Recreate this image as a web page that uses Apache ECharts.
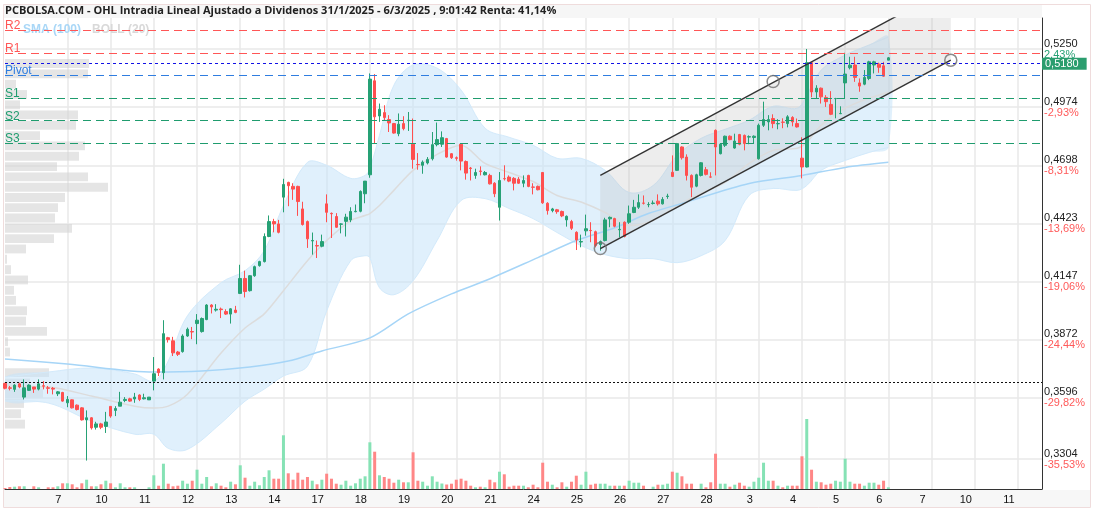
<!DOCTYPE html>
<html>
<head>
<meta charset="utf-8">
<script src="https://cdn.jsdelivr.net/npm/echarts@6.0.0/dist/echarts.min.js"></script>
<style>
  html, body { margin: 0; padding: 0; background: #fff; }
  #chart { width: 1096px; height: 512px; }
</style>
</head>
<body>
<div id="chart"></div>
<script>
// dias del eje x (la etiqueta se pone en la primera vela de cada sesion)
const dayLabels = ['7', '10', '11', '12', '13', '14', '17', '18', '19', '20', '21', '24', '25', '26', '27', '28', '3', '4', '5', '6', '7', '10', '11']
const firstDayIndex = 13
const barsPerDay = 9
const slotCount = 217

// velas horarias [apertura, cierre, minimo, maximo]
const candles = [
  [.3663, .3640, .3635, .3666], [.3642, .3640, .3630, .3651], [.3635, .3655, .3623, .3659], [.3661, .3646, .3640, .3666],
  [.3598, .3642, .3587, .3682], [.3630, .3655, .3627, .3659], [.3646, .3636, .3618, .3646], [.3636, .3661, .3630, .3682],
  [.3652, .3650, .3635, .3674], [.3642, .3640, .3614, .3651], [.3640, .3636, .3611, .3646], [.3614, .3623, .3603, .3627],
  [.3620, .3579, .3576, .3623], [.3571, .3587, .3550, .3603], [.3585, .3547, .3544, .3587], [.3560, .3539, .3535, .3563],
  [.3547, .3490, .3487, .3550], [.3490, .3500, .3297, .3535], [.3500, .3452, .3444, .3503], [.3455, .3471, .3444, .3481],
  [.3471, .3455, .3446, .3476], [.3459, .3480, .3428, .3528], [.3554, .3508, .3500, .3555], [.3535, .3544, .3508, .3555],
  [.3555, .3574, .3555, .3623], [.3582, .3587, .3574, .3598], [.3590, .3579, .3576, .3595], [.3589, .3598, .3571, .3618],
  [.3608, .3587, .3579, .3611], [.3590, .3595, .3587, .3614], [.3585, .3598, .3585, .3598], [.3674, .3709, .3630, .3788],
  [.3731, .3714, .3698, .3735], [.3714, .3899, .3682, .3963], [.3880, .3871, .3857, .3884], [.3865, .3808, .3793, .3884],
  [.3812, .3801, .3793, .3817], [.3814, .3888, .3809, .3896], [.3888, .3920, .3884, .3928], [.3909, .3907, .3873, .3931],
  [.3947, .3963, .3849, .3992], [.3909, .3971, .3904, .3976], [.3966, .4035, .3963, .4039], [.4035, .4026, .3995, .4039],
  [.4011, .4015, .4004, .4039], [.4016, .4013, .3973, .4023], [.4004, .3992, .3988, .4015], [.3992, .4017, .3947, .4020],
  [.4011, .4000, .3996, .4031], [.4090, .4161, .4087, .4226], [.4161, .4099, .4071, .4198], [.4103, .4174, .4099, .4177],
  [.4174, .4217, .4169, .4222], [.4222, .4241, .4217, .4245], [.4241, .4360, .4237, .4375], [.4360, .4431, .4357, .4460],
  [.4431, .4420, .4380, .4444], [.4420, .4380, .4375, .4439], [.4547, .4607, .4475, .4634], [.4617, .4601, .4504, .4620],
  [.4598, .4585, .4534, .4613], [.4598, .4526, .4458, .4601], [.4491, .4417, .4412, .4525], [.4431, .4349, .4306, .4436],
  [.4339, .4341, .4274, .4379], [.4317, .4315, .4258, .4341], [.4314, .4336, .4309, .4369], [.4515, .4475, .4428, .4560],
  [.4470, .4468, .4353, .4474], [.4455, .4404, .4401, .4471], [.4418, .4420, .4375, .4423], [.4432, .4452, .4360, .4468],
  [.4439, .4479, .4428, .4499], [.4478, .4480, .4475, .4512], [.4480, .4574, .4475, .4579], [.4563, .4623, .4518, .4623],
  [.4653, .5107, .4639, .5134], [.5099, .4928, .4801, .5131], [.4932, .4964, .4904, .4991], [.4948, .4925, .4912, .4983],
  [.4915, .4899, .4856, .4936], [.4896, .4851, .4848, .4899], [.4848, .4893, .4836, .4944], [.4896, .4872, .4864, .4931],
  [.4910, .4912, .4861, .4951], [.4798, .4726, .4682, .4920], [.4702, .4701, .4677, .4756], [.4698, .4713, .4658, .4721],
  [.4709, .4726, .4702, .4737], [.4729, .4796, .4721, .4856], [.4796, .4820, .4788, .4901], [.4798, .4829, .4785, .4859],
  [.4825, .4737, .4734, .4828], [.4753, .4734, .4728, .4756], [.4734, .4731, .4720, .4740], [.4798, .4718, .4674, .4801],
  [.4716, .4661, .4630, .4721], [.4685, .4683, .4626, .4690], [.4650, .4664, .4634, .4682], [.4671, .4669, .4650, .4693],
  [.4653, .4664, .4650, .4671], [.4650, .4610, .4607, .4658], [.4613, .4563, .4547, .4618], [.4499, .4626, .4436, .4666],
  [.4635, .4634, .4626, .4698], [.4642, .4623, .4618, .4650], [.4636, .4613, .4579, .4642], [.4632, .4613, .4610, .4642],
  [.4613, .4626, .4594, .4650], [.4650, .4598, .4594, .4653], [.4595, .4594, .4560, .4613], [.4598, .4582, .4579, .4602],
  [.4664, .4520, .4515, .4666], [.4518, .4483, .4464, .4523], [.4483, .4491, .4475, .4496], [.4487, .4478, .4468, .4491],
  [.4479, .4458, .4452, .4483], [.4439, .4456, .4407, .4460], [.4431, .4399, .4391, .4439], [.4380, .4344, .4296, .4385],
  [.4334, .4336, .4309, .4369], [.4387, .4397, .4364, .4464], [.4389, .4388, .4333, .4428], [.4383, .4317, .4309, .4388],
  [.4322, .4336, .4293, .4341], [.4341, .4439, .4337, .4449], [.4444, .4451, .4404, .4455], [.4445, .4409, .4404, .4449],
  [.4392, .4394, .4356, .4428], [.4428, .4360, .4356, .4432], [.4428, .4468, .4420, .4507], [.4474, .4499, .4471, .4534],
  [.4499, .4521, .4491, .4560], [.4519, .4518, .4512, .4555], [.4511, .4512, .4499, .4523], [.4517, .4519, .4512, .4531],
  [.4528, .4515, .4507, .4560], [.4515, .4536, .4512, .4547], [.4550, .4552, .4539, .4563], [.4665, .4645, .4642, .4745],
  [.4674, .4801, .4671, .4804], [.4785, .4734, .4725, .4788], [.4737, .4650, .4626, .4750], [.4650, .4594, .4547, .4655],
  [.4599, .4653, .4594, .4658], [.4650, .4710, .4645, .4713], [.4677, .4655, .4650, .4690], [.4643, .4642, .4639, .4665],
  [.4864, .4785, .4650, .4868], [.4753, .4798, .4750, .4801], [.4793, .4836, .4785, .4839], [.4836, .4820, .4817, .4840],
  [.4780, .4813, .4777, .4848], [.4844, .4798, .4793, .4847], [.4840, .4801, .4769, .4844], [.4832, .4834, .4798, .4840],
  [.4830, .4836, .4801, .4840], [.4729, .4888, .4725, .4896], [.4888, .4915, .4880, .5000], [.4904, .4915, .4864, .4936],
  [.4920, .4896, .4874, .4940], [.4895, .4896, .4869, .4917], [.4903, .4902, .4874, .4921], [.4896, .4928, .4878, .4936],
  [.4925, .4904, .4883, .4931], [.4896, .4880, .4877, .4920], [.4732, .4690, .4636, .4831], [.4690, .5185, .4688, .5250],
  [.5185, .5046, .5021, .5189], [.5046, .5064, .5016, .5078], [.5064, .5023, .4991, .5067], [.5020, .5000, .4975, .5031],
  [.4987, .4940, .4936, .5050], [.5014, .5015, .4921, .5018], [.4943, .4944, .4941, .4978], [.5089, .5131, .5017, .5232],
  [.5161, .5173, .5153, .5213], [.5174, .5115, .5094, .5213], [.5089, .5074, .5047, .5110], [.5083, .5115, .5078, .5150],
  [.5110, .5189, .5102, .5194], [.5174, .5189, .5134, .5194], [.5178, .5163, .5137, .5185], [.5170, .5121, .5118, .5189],
  [.5197, .5208, .5197, .5212]
]

// volumen por vela (miles de titulos, aprox.)
const volumes = [
  1, 2, 2.3, 2.7, 2.7, 0, 2.7, 1.7, 0, 1.7,
  1.7, 2.7, 5.7, 5.7, 4.7, 1.7, 5.7, 9.3, 2.7, 2.7,
  4.7, 8.3, 5.7, 1.7, 5.7, 1.7, 1.7, 1.7, 0, 0,
  1.7, 13.7, 3.3, 25.3, 5.3, 2.7, 3.3, 8.3, 5.3, 8.3,
  19.3, 5.3, 12, 2.7, 5.7, 3.3, 1.7, 7.3, 4.7, 23.7,
  11.3, 3.3, 7.3, 3.7, 12, 18.7, 10.3, 10.3, 53.7, 15.7,
  9.3, 16.3, 9.3, 12, 8.3, 4.7, 9.3, 15.3, 10.3, 5.3,
  4.3, 8.3, 3.3, 5.7, 10.3, 12.7, 46.7, 37.3, 13.7, 12,
  10.3, 6.3, 9.3, 6.7, 6.7, 36.7, 8.3, 7.3, 3.3, 12.7,
  7.3, 5.5, 4.5, 5.3, 9.3, 10.3, 8.3, 3.3, 1.7, 2.3,
  1.7, 9.3, 6.7, 17.3, 14.7, 2.3, 3.3, 3.3, 3.3, 1.7,
  4.3, 1.7, 26.3, 7.3, 4.3, 1.7, 6.7, 2.3, 7.3, 13.3,
  4.3, 17.3, 4.3, 5.3, 5.3, 5.3, 3.3, 3.3, 3.3, 3.3,
  8.3, 6.3, 6.3, 3.3, 0, 2.3, 4.3, 4.3, 5.3, 17.3,
  16.3, 12.7, 5.3, 5.3, 0, 5.3, 1.7, 6.7, 35.3, 5.3,
  5.3, 2.3, 4.3, 6.3, 3.3, 2.3, 7.3, 11.3, 26.3, 8.3,
  8.3, 3.3, 1.7, 3.3, 3.3, 3.3, 32.7, 70, 19.3, 7.3,
  6.7, 4.3, 5.3, 8.3, 7.3, 30.3, 7.3, 5.3, 5.3, 3.3,
  6.3, 6.3, 4.3, 8.3, 1.7
]

// eje de precios
const priceTicks = [0.3304, 0.3596, 0.3872, 0.4147, 0.4423, 0.4698, 0.4974, 0.5250]
const pctLabels = ['-35,53%', '-29,82%', '-24,44%', '-19,06%', '-13,69%', '-8,31%', '-2,93%', '2,43%']
const priceMin = 0.3162
const priceMax = 0.5397

// pivotes
const pivotNames = ['R2', 'R1', 'Pivot', 'S1', 'S2', 'S3']
const pivotValues = [0.5340, 0.5231, 0.5126, 0.5017, 0.4912, 0.4803]
const lastPrice = 0.5180
const basePrice = 0.3670

// bandas de bollinger (20)
const bollIndex = [0, 9, 18, 27, 31, 34, 38, 45, 50, 54, 58, 63, 67, 72, 75, 76, 78, 81, 85, 90,
  95, 100, 105, 110, 115, 120, 125, 130, 135, 140, 145, 150, 155, 160, 165, 167, 170, 175, 180, 184]
const bollUpper = [.3693, .3717, .3736, .3708, .3674, .3769, .3984, .4141, .4198, .4293,
  .4507, .4712, .4698, .4636, .4650, .4683, .4840, .5078, .5174, .5159,
  .5055, .4874, .4831, .4793, .4731, .4731, .4674, .4569, .4602, .4745,
  .4826, .4869, .4912, .4978, .4969, .5031, .5150, .5221, .5269, .5307]
const bollMid = [.3650, .3646, .3603, .3555, .3546, .3555, .3612, .3807, .3926, .3993,
  .4103, .4245, .4341, .4436, .4460, .4469, .4507, .4579, .4674, .4750,
  .4793, .4707, .4664, .4621, .4555, .4524, .4474, .4412, .4436, .4507,
  .4564, .4617, .4707, .4769, .4779, .4807, .4888, .4969, .5017, .5045]
const bollLower = [.3579, .3570, .3484, .3422, .3422, .3355, .3350, .3474, .3579, .3636,
  .3698, .3745, .4007, .4245, .4269, .4260, .4117, .4084, .4150, .4341,
  .4531, .4540, .4493, .4445, .4379, .4317, .4274, .4255, .4255, .4236,
  .4269, .4341, .4555, .4588, .4579, .4602, .4674, .4721, .4759, .4783]

// media simple (100)
const smaIndex = [0, 13, 31, 41, 51, 59, 66, 76, 84, 93, 100, 111, 119, 127, 134, 141, 155, 166, 175, 184]
const smaValues = [.3779, .3755, .3717, .3722, .3741, .3769, .3817, .3879, .3993, .4088,
  .4150, .4260, .4341, .4402, .4469, .4517, .4612, .4650, .4688, .4712]

// perfil de volumen por precio (precio central, longitud relativa)
const vpPrices = [.5181, .5132, .5083, .5034, .4985, .4937, .4888, .4839, .4790, .4741, .4692, .4643,
  .4594, .4545, .4497, .4448, .4399, .4350, .4301, .4252, .4203, .4154, .4105, .4057,
  .4008, .3959, .3910, .3861, .3812, .3763, .3714, .3665, .3617, .3568, .3519, .3470]
const vpVolumes = [84, 83, 11, 22, 15, 73, 71, 35, 80, 74, 52, 83,
  103, 60, 53, 50, 67, 49, 21, 2, 6, 23, 9, 11,
  22, 21, 42, 3, 5, 0, 44, 25, 38, 19, 16, 20]

// canal alcista dibujado
const channelLower = [[124, 0.4303], [197, 0.5197]]
const channelUpper = [[124, 0.4650], [197, 0.5544]]
const channelMarks = [[124, 0.4303], [160, 0.5096], [197, 0.5197]]

const upColor = '#26a175'
const downColor = '#ff4f4f'
const pivotColors = ['#ff5656', '#ff5656', '#2f7de0', '#1f9c6e', '#1f9c6e', '#1f9c6e']
const fmt = v => v.toFixed(4).replace('.', ',')

const categories = []
for (let i = 0; i < slotCount; i++) categories.push(String(i))
const isDayStart = i => i >= firstDayIndex && (i - firstDayIndex) % barsPerDay === 0
const dayLabelAt = i => dayLabels[(i - firstDayIndex) / barsPerDay] || ''

const chart = echarts.init(document.getElementById('chart'))

const option = {
  animation: false,
  backgroundColor: '#fff',
  title: {
    text: 'PCBOLSA.COM - OHL Intradia Lineal Ajustado a Dividenos 31/1/2025 - 6/3/2025 , 9:01:42 Renta: 41,14%',
    left: 5, top: 5, padding: 0,
    textStyle: { fontFamily: 'Open Sans', fontSize: 11, fontWeight: 'bold', color: '#222' }
  },
  legend: {
    left: 17, top: 24, padding: 0, itemWidth: 0, itemHeight: 0, itemGap: 6,
    selectedMode: false,
    textStyle: { fontFamily: 'Liberation Sans', fontSize: 12, fontWeight: 'bold' },
    data: [
      { name: 'SMA (100)', textStyle: { color: '#a9d7f7' } },
      { name: 'BOLL (20)', textStyle: { color: '#d9d9d9' } }
    ]
  },
  graphic: [
    { type: 'rect', z: -10, shape: { x: 4, y: 5, width: 1038, height: 13 }, style: { fill: '#f6f6f6' } },
    { type: 'rect', z: -10, shape: { x: 4, y: 490, width: 1087, height: 17 }, style: { fill: '#f7f7f7' } },
    { type: 'rect', z: -9, shape: { x: 3.5, y: 4.5, width: 1087, height: 503 }, style: { fill: 'none', stroke: '#efdcdc', lineWidth: 1 } }
  ],
  grid: [
    { left: 5, right: 54, top: 18, bottom: 23 },
    { left: 5, right: 54, bottom: 23, height: 100 },
    { left: 5, right: 54, top: 18, bottom: 23 }
  ],
  xAxis: [
    {
      type: 'category', data: categories, boundaryGap: false, gridIndex: 0,
      axisLine: { lineStyle: { color: '#333', width: 1 } },
      axisTick: { show: false },
      axisLabel: {
        interval: i => isDayStart(i),
        formatter: (v, i) => dayLabelAt(i),
        color: '#111', fontFamily: 'Liberation Sans', fontSize: 11, margin: 5,
        padding: [0, 18, 0, 0]
      },
      splitLine: { show: true, interval: i => isDayStart(i), lineStyle: { color: '#e8e8e8', width: 1.5 } }
    },
    { type: 'category', data: categories, boundaryGap: false, gridIndex: 1, show: false },
    { type: 'value', gridIndex: 2, min: 0, max: 1037, show: false }
  ],
  yAxis: [
    {
      type: 'value', position: 'right', gridIndex: 0, min: priceMin, max: priceMax,
      axisLine: { show: true, lineStyle: { color: '#333', width: 1 } },
      axisTick: { show: false, customValues: priceTicks },
      splitLine: { show: true, lineStyle: { color: '#e8e8e8', width: 1.5 } },
      axisLabel: {
        customValues: priceTicks, margin: 2,
        formatter: v => {
          const k = priceTicks.findIndex(t => Math.abs(t - v) < 1e-6)
          const pct = pctLabels[k] || ''
          return '{p|' + fmt(v) + '}\n{' + (pct.charAt(0) === '-' ? 'n' : 'g') + '|' + pct + '}'
        },
        rich: {
          p: { color: '#222', fontFamily: 'Liberation Sans', fontSize: 11, lineHeight: 11 },
          n: { color: '#ff5a5a', fontFamily: 'Liberation Sans', fontSize: 11, lineHeight: 11 },
          g: { color: '#26a175', fontFamily: 'Liberation Sans', fontSize: 11, lineHeight: 11 }
        }
      }
    },
    { type: 'value', gridIndex: 1, min: 0, max: 100, show: false },
    { type: 'value', gridIndex: 2, min: priceMin, max: priceMax, show: false }
  ],
  series: [
    {
      // perfil de volumen
      type: 'custom', xAxisIndex: 2, yAxisIndex: 2, z: 1, silent: true,
      data: vpPrices.map((p, k) => [vpVolumes[k], p]),
      renderItem: (params, api) => {
        const a = api.coord([0, api.value(1) + 0.0021])
        const b = api.coord([api.value(0), api.value(1) - 0.0021])
        return { type: 'rect', shape: { x: a[0], y: a[1], width: b[0] - a[0], height: b[1] - a[1] }, style: { fill: 'rgba(212,212,212,0.6)' } }
      }
    },
    {
      name: 'BOLL (20)', type: 'custom', z: 1, silent: true, clip: true,
      data: bollIndex.map((x, k) => [x, bollUpper[k], bollLower[k]]),
      encode: { x: 0, y: [1, 2] },
      renderItem: (params, api) => {
        if (params.dataIndex !== 0) return null
        const up = bollIndex.map((x, k) => api.coord([x, bollUpper[k]]))
        const lo = bollIndex.map((x, k) => api.coord([x, bollLower[k]]))
        return {
          type: 'group',
          children: [
            { type: 'polygon', shape: { points: up.concat(lo.slice().reverse()), smooth: 0.35 }, style: { fill: 'rgba(198,228,250,0.55)' } },
            { type: 'polyline', shape: { points: up, smooth: 0.35 }, style: { stroke: '#d3eafb', lineWidth: 1, fill: 'none' } },
            { type: 'polyline', shape: { points: lo, smooth: 0.35 }, style: { stroke: '#d3eafb', lineWidth: 1, fill: 'none' } }
          ]
        }
      }
    },
    {
      type: 'line', name: 'boll-mid', z: 2, silent: true, smooth: 0.3, symbol: 'none',
      data: bollIndex.map((x, k) => [x, bollMid[k]]),
      lineStyle: { color: '#dcdcdc', width: 1.5 }
    },
    {
      type: 'custom', z: 2, silent: true, clip: true,
      data: [channelUpper[0]],
      renderItem: (params, api) => {
        const pts = [channelUpper[0], channelUpper[1], channelLower[1], channelLower[0]].map(p => api.coord(p))
        return { type: 'polygon', shape: { points: pts }, style: { fill: 'rgba(185,185,185,0.25)' } }
      }
    },
    {
      type: 'line', name: 'SMA (100)', z: 2, silent: true, smooth: 0.3, symbol: 'none',
      data: smaIndex.map((x, k) => [x, smaValues[k]]),
      lineStyle: { color: '#a6d5f7', width: 1.5 }
    },
    {
      type: 'line', z: 4, silent: true, symbol: 'none', data: channelUpper,
      lineStyle: { color: '#333', width: 1.4 }
    },
    {
      type: 'line', z: 4, silent: true, symbol: 'none', data: channelLower,
      lineStyle: { color: '#333', width: 1.4 }
    },
    {
      type: 'scatter', z: 5, silent: true, symbol: 'circle', symbolSize: 12, data: channelMarks,
      itemStyle: { color: 'rgba(255,255,255,0)', borderColor: '#6e6e6e', borderWidth: 1.5 }
    },
    {
      type: 'candlestick', z: 3, barWidth: 3,
      data: candles,
      itemStyle: { color: upColor, color0: downColor, borderColor: upColor, borderColor0: downColor, borderWidth: 1 },
      markLine: {
        symbol: 'none', silent: true, animation: false, precision: 4,
        data: pivotNames.map((n, k) => ({
          name: n, yAxis: pivotValues[k],
          lineStyle: { color: pivotColors[k], type: [8, 5], width: 1 },
          label: { show: true, position: 'insideStartTop', formatter: n, color: pivotColors[k], fontFamily: 'Liberation Sans', fontSize: 12, distance: [0, -2] }
        })).concat([
          {
            yAxis: lastPrice,
            lineStyle: { color: '#1212e6', type: [3, 3], width: 1 },
            label: {
              show: true, position: 'end', distance: 0, formatter: fmt(lastPrice),
              backgroundColor: '#2a9d6e', color: '#fff', fontFamily: 'Liberation Sans', fontSize: 11,
              padding: [1, 8, 0, 3]
            }
          },
          {
            yAxis: basePrice,
            lineStyle: { color: '#111', type: [2, 2], width: 1 },
            label: { show: false }
          }
        ])
      }
    },
    {
      type: 'bar', xAxisIndex: 1, yAxisIndex: 1, barWidth: 3, silent: true,
      data: volumes.map((v, i) => ({
        value: v,
        itemStyle: { color: candles[i][1] >= candles[i][0] ? '#86e2b5' : '#ff8787' }
      }))
    }
  ]
}

chart.setOption(option)
</script>
</body>
</html>
